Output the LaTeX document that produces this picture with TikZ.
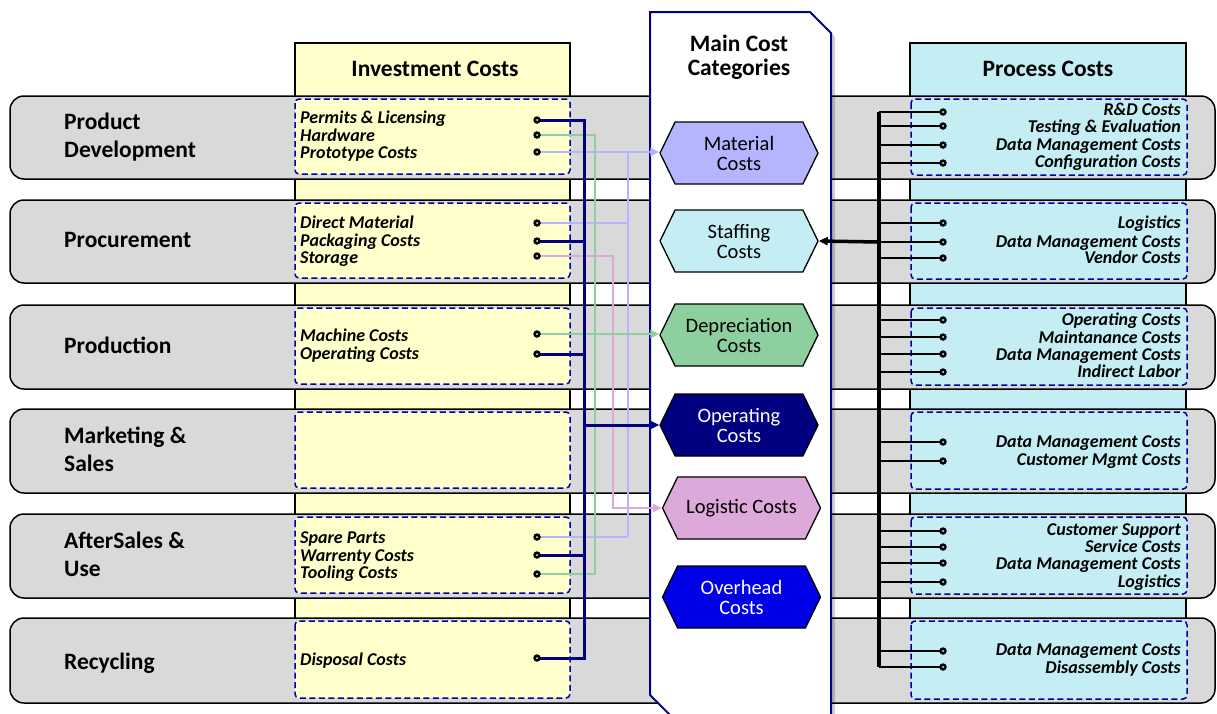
\documentclass[tikz,border=0pt]{standalone}
\usepackage{fontspec}
\setmainfont{Carlito}
\usetikzlibrary{shapes.symbols,arrows.meta}
\definecolor{bandgrey}{HTML}{D9D9D9}
\definecolor{invyellow}{HTML}{FFFFCC}
\definecolor{proccyan}{HTML}{C4EEF4}
\definecolor{dashblue}{HTML}{0000A0}
\definecolor{colblue}{HTML}{00008B}
\definecolor{lavc}{HTML}{B4B4FF}
\definecolor{greenc}{HTML}{8ECF9F}
\definecolor{pinkc}{HTML}{DDA8DA}
\definecolor{navyc}{HTML}{000080}
\definecolor{ovblue}{HTML}{0000E6}
\begin{document}
\begin{tikzpicture}[x=1pt,y=-1pt,
  colbox/.style={draw=black, line width=1.5pt},
  band/.style={fill=bandgrey, draw=black, line width=1.5pt, rounded corners=14pt},
  dbox/.style={draw=dashblue, line width=1.5pt, dash pattern=on 6pt off 3.5pt, rounded corners=4pt},
  item/.style={font=\fontsize{18}{18}\selectfont\bfseries\itshape, inner sep=0pt},
  lab/.style={font=\fontsize{23.5}{28}\selectfont\bfseries, inner sep=0pt, anchor=base west},
  head/.style={font=\fontsize{23.5}{26}\selectfont\bfseries, inner sep=0pt, anchor=base},
  hexa/.style={signal, signal to=west and east, signal pointer angle=128,
    minimum width=158pt, minimum height=62pt, draw=black, line width=1.3pt,
    inner sep=0pt, font=\fontsize{20.5}{20}\selectfont, align=center},
  dotn/.style={circle, fill=black, inner sep=0pt, minimum size=7.5pt,
    path picture={\fill[white] (path picture bounding box.center) circle (1pt);}},
  lavl/.style={draw=lavc, line width=2.5pt},
  greenl/.style={draw=greenc, line width=2.5pt},
  pinkl/.style={draw=pinkc, line width=2.5pt},
  navyl/.style={draw=navyc, line width=3pt},
  blkl/.style={draw=black, line width=2.5pt},
  blkbus/.style={draw=black, line width=3.5pt},
  tip/.style={-{Triangle[length=9pt,width=8pt]}}
]
\useasboundingbox (0,0) rectangle (1217,713);

% columns
\path[colbox, fill=invyellow] (295,43) rectangle (570,700);
\path[colbox, fill=proccyan] (910,43) rectangle (1186,700);

% row bands
\foreach \t/\b in {96/179, 200/283, 305/389, 409/493, 514/598, 618/703}{
  \path[band] (10,\t) rectangle (1215,\b);
  \path[dbox, fill=invyellow] (295,\t+3) rectangle (570,\b-5);
  \path[dbox, fill=proccyan] (911,\t+3) rectangle (1187,\b-4);
}

% headers
\node[head] (hinv) at (435,76) {Investment Costs};
\node[head] (hproc) at (1048,76) {Process Costs};

% main column
\fill[black, opacity=0.18] (654,16) -- (814,16) -- (835,37) -- (835,730) -- (689,730) -- (654,699) -- cycle;
\draw[colblue, line width=2pt, fill=white] (650,12) -- (810,12) -- (831,33) -- (831,730) -- (685,730) -- (650,695) -- cycle;
\node[head] (mc1) at (739,51) {Main Cost};
\node[head] (mc2) at (739,75) {Categories};

% hexagons
\node[hexa, fill=lavc] (hmat) at (739,153) {Material\\Costs};
\node[hexa, fill=proccyan] (hstaff) at (739,241) {Staffing\\Costs};
\node[hexa, fill=greenc] (hdep) at (739,335) {Depreciation\\Costs};
\node[hexa, fill=navyc, text=white] (hop) at (739,425) {Operating\\Costs};
\node[hexa, fill=pinkc] (hlog) at (741.5,508) {Logistic Costs};
\node[hexa, fill=ovblue, text=white] (hov) at (741.5,597) {Overhead\\Costs};

% row labels
\node[lab] (l1a) at (64,129) {Product};
\node[lab] (l1b) at (64,157) {Development};
\node[lab] (l2) at (64,247) {Procurement};
\node[lab] (l3) at (64,353) {Production};
\node[lab] (l4a) at (64,443) {Marketing \&};
\node[lab] (l4b) at (64,471) {Sales};
\node[lab] (l5a) at (64,548) {AfterSales \&};
\node[lab] (l5b) at (64,576) {Use};
\node[lab] (l6) at (64,669) {Recycling};

% left items
\foreach \n/\y/\txt in {i1/123/Permits \& Licensing, i2/141/Hardware, i3/158/Prototype Costs,
  i4/228/Direct Material, i5/246/Packaging Costs, i6/263/Storage,
  i7/341.5/Machine Costs, i8/359/Operating Costs,
  i9/543/Spare Parts, i10/561/Warrenty Costs, i11/578/Tooling Costs,
  i12/665/Disposal Costs}{
  \node[item, anchor=base west] (\n) at (300,\y) {\txt};
}

% right items
\foreach \n/\y/\txt in {r1/115/R\&D Costs, r2/132/Testing \& Evaluation, r3/150/Data Management Costs, r4/167/Configuration Costs,
  r5/228/Logistics, r6/247/Data Management Costs, r7/263/Vendor Costs,
  r8/325/Operating Costs, r9/343/Maintanance Costs, r10/360/Data Management Costs, r11/377/Indirect Labor,
  r12/447/Data Management Costs, r13/465/Customer Mgmt Costs,
  r14/535/Customer Support, r15/552/Service Costs, r16/569/Data Management Costs, r17/587/Logistics,
  r18/655/Data Management Costs, r19/673/Disassembly Costs}{
  \node[item, anchor=base east] (\n) at (1181,\y) {\txt};
}

% bus coordinates
\coordinate (nbus) at (584,0);
\coordinate (gbus) at (595,0);
\coordinate (pbus) at (613,0);
\coordinate (lbus) at (628,0);
\coordinate (rbus) at (879,0);

% left dot positions
\coordinate (dperm) at (537,120);
\coordinate (dhard) at (537,135);
\coordinate (dproto) at (537,152);
\coordinate (ddirect) at (537,223);
\coordinate (dpack) at (537,241);
\coordinate (dstor) at (537,256);
\coordinate (dmach) at (537,334);
\coordinate (dopc) at (537,354);
\coordinate (dspare) at (537,537);
\coordinate (dwarr) at (537,555);
\coordinate (dtool) at (537,574);
\coordinate (ddisp) at (537,658);

% lavender -> Material
\draw[lavl] (dproto -| lbus) -- (dspare -| lbus);
\draw[lavl] (ddirect) -- (ddirect -| lbus);
\draw[lavl] (dspare) -- (dspare -| lbus);
\draw[lavl, tip] (dproto) -- (dproto -| hmat.west);
% pink -> Logistic
\draw[pinkl, tip] (dstor) -- (dstor -| pbus) -- (pbus |- hlog.west) -- (hlog.west);
% green -> Depreciation
\draw[greenl] (dhard) -- (dhard -| gbus) -- (dtool -| gbus) -- (dtool);
\draw[greenl, tip] (dmach) -- (dmach -| hdep.west);
% navy -> Operating
\draw[navyl] (dperm) -- (dperm -| nbus) -- (ddisp -| nbus) -- (ddisp);
\draw[navyl] (dpack) -- (dpack -| nbus);
\draw[navyl] (dopc) -- (dopc -| nbus);
\draw[navyl] (dwarr) -- (dwarr -| nbus);
\draw[navyl, tip] (nbus |- hop.west) -- (hop.west);

% left dots
\foreach \d in {dperm,dhard,dproto,ddirect,dpack,dstor,dmach,dopc,dspare,dwarr,dtool,ddisp}{
  \node[dotn] at (\d) {};
}

% right dots
\foreach \n/\y in {q1/112, q2/126, q3/145, q4/163, q5/223, q6/242, q7/258,
  q8/320, q9/337, q10/354, q11/372, q12/442, q13/461,
  q14/531, q15/547, q16/563, q17/582, q18/651, q19/667}{
  \coordinate (\n) at (943,\y);
}
\draw[blkbus] (q1 -| rbus) -- (q19 -| rbus);
\foreach \n in {q1,q2,q3,q4,q5,q6,q7,q8,q9,q10,q11,q12,q13,q14,q15,q16,q17,q18,q19}{
  \draw[blkl] (\n -| rbus) -- (\n);
  \node[dotn] at (\n) {};
}
\draw[blkbus, tip] (q6 -| rbus) -- (hstaff.east);
\end{tikzpicture}
\end{document}
